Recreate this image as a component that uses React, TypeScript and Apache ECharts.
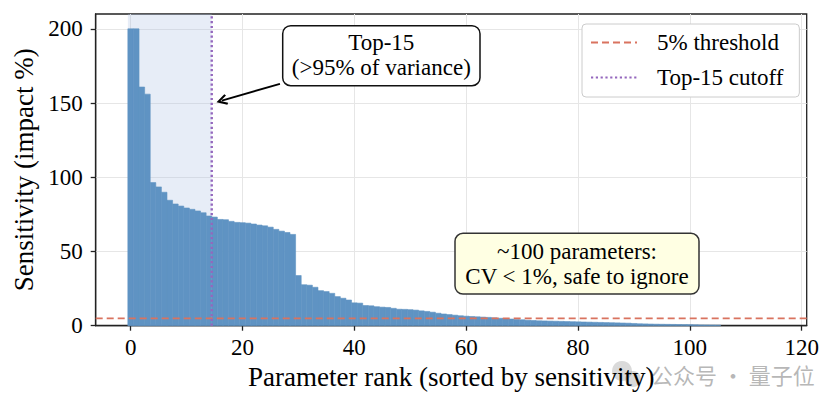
import React, { useEffect, useRef } from "react";
import * as echarts from "echarts";

// Sensitivity (impact %) per parameter, sorted by rank 0..105
const SENSITIVITY = [
  200, 200, 160.8, 156, 96.4, 93.5, 89.9, 84.5, 82, 80.6,
  79.3, 78.4, 77.3, 76.1, 73.9, 73.2, 71.6, 71.4, 70.3, 69.6,
  69.4, 69.1, 68.5, 67.8, 67.3, 66.4, 64.9, 63.7, 62.8, 61.5,
  33.8, 27.6, 27.3, 25.9, 23.6, 23.0, 21.8, 19.6, 18.5, 17.3,
  15.4, 15.2, 13.6, 13.4, 12.8, 12.5, 12.3, 11.7, 11.1, 11.0,
  10.8, 10.5, 10.0, 9.6, 9.1, 8.4, 7.9, 7.5, 7.1, 6.7,
  6.4, 6.2, 6.0, 5.8, 5.6, 5.3, 5.0, 4.8, 4.5, 4.2,
  4.0, 3.7, 3.5, 3.3, 3.2, 3.1, 3.0, 2.9, 2.8, 2.7,
  2.6, 2.5, 2.4, 2.3, 2.2, 2.1, 2.0, 1.9, 1.8, 1.7,
  1.5, 1.3, 1.2, 1.1, 1.0, 0.95, 0.9, 0.85, 0.8, 0.75,
  0.7, 0.6, 0.5, 0.45, 0.4, 0.35,
];
const X_TICKS = [0, 20, 40, 60, 80, 100, 120];
const Y_TICKS = [0, 50, 100, 150, 200];
const THRESHOLD = 5;
const CUTOFF = 14.5;
const SHADE_RANGE = [-0.5, 14.5];
const X_RANGE = [-6.25, 120.9];
const Y_RANGE = [0, 210];
const ARROW_FROM = [26.7, 163];
const ARROW_TO = [16.3, 151.6];

const SERIF = "Liberation Serif, Times New Roman, DejaVu Serif, serif";
const BAR_COLOR = "#5f93c3";
const RED = "#d9735f";
const PURPLE = "#9467bd";
const OPEN_ARROW = "path://M5,0 L10,9 L8.5,10.2 L5,3.8 L1.5,10.2 L0,9 Z";

export default function App() {
  const ref = useRef<HTMLDivElement>(null);
  useEffect(() => {
    document.body.style.margin = "0";
    if (!ref.current) return;
    const chart = echarts.init(ref.current, null, { renderer: "svg" });
    const barData = SENSITIVITY.map((v, i) => [i, v]);
    const option: any = {
      animation: false,
      backgroundColor: "#fff",
      textStyle: { fontFamily: SERIF },
      grid: {
        left: 95.7,
        top: 14,
        right: 25.3,
        bottom: 82.3,
        show: true,
        borderColor: "#222",
        borderWidth: 1.3,
        backgroundColor: "transparent",
      },
      xAxis: {
        type: "value",
        min: X_RANGE[0],
        max: X_RANGE[1],
        name: "Parameter rank (sorted by sensitivity)",
        nameLocation: "middle",
        nameGap: 37,
        nameTextStyle: { fontSize: 27, color: "#000", fontFamily: SERIF },
        axisLine: { show: true, onZero: false, lineStyle: { color: "#222", width: 1.3 } },
        axisTick: { show: true, length: 5, customValues: X_TICKS, lineStyle: { color: "#222", width: 1.3 } },
        axisLabel: { customValues: X_TICKS, fontSize: 23, color: "#000", margin: 10, fontFamily: SERIF },
        splitLine: { show: true, lineStyle: { color: "#e6e6e6", width: 1 } },
      },
      yAxis: {
        type: "value",
        min: Y_RANGE[0],
        max: Y_RANGE[1],
        name: "Sensitivity (impact %)",
        nameLocation: "middle",
        nameGap: 58,
        nameTextStyle: { fontSize: 27, color: "#000", fontFamily: SERIF },
        axisLine: { show: true, onZero: false, lineStyle: { color: "#222", width: 1.3 } },
        axisTick: { show: true, length: 5, customValues: Y_TICKS, lineStyle: { color: "#222", width: 1.3 } },
        axisLabel: { customValues: Y_TICKS, fontSize: 23, color: "#000", margin: 13, fontFamily: SERIF },
        splitLine: { show: true, lineStyle: { color: "#e6e6e6", width: 1 } },
      },
      legend: {
        data: ["5% threshold", "Top-15 cutoff"],
        orient: "vertical",
        left: 582,
        top: 24,
        padding: [7, 16, 8, 8],
        itemGap: 12,
        itemWidth: 46,
        itemHeight: 14,
        backgroundColor: "#fff",
        borderColor: "#cccccc",
        borderWidth: 1,
        borderRadius: 4,
        itemStyle: { opacity: 0 },
        textStyle: { fontSize: 23, color: "#000", fontFamily: SERIF, padding: [0, 0, 0, 15] },
      },
      series: [
        {
          type: "custom",
          name: "Sensitivity",
          data: barData,
          encode: { x: 0, y: 1 },
          z: 2,
          renderItem: (params: any, api: any) => {
            const x = api.value(0);
            const v = api.value(1);
            const p0 = api.coord([x - 0.5, v]);
            const p1 = api.coord([x + 0.5, 0]);
            return {
              type: "rect",
              shape: { x: p0[0], y: p0[1], width: p1[0] - p0[0], height: p1[1] - p0[1] },
              style: { fill: BAR_COLOR, stroke: BAR_COLOR, lineWidth: 0.6 },
            };
          },
          markArea: {
            silent: true,
            itemStyle: { color: "rgba(176,196,230,0.3)" },
            data: [[{ xAxis: SHADE_RANGE[0] }, { xAxis: SHADE_RANGE[1] }]],
          },
        },
        {
          type: "line",
          name: "5% threshold",
          data: [
            [X_RANGE[0], THRESHOLD],
            [X_RANGE[1], THRESHOLD],
          ],
          symbol: "none",
          z: 4,
          lineStyle: { color: RED, width: 1.8, type: [7, 4] },
          itemStyle: { color: RED },
        },
        {
          type: "line",
          name: "Top-15 cutoff",
          data: [
            [CUTOFF, Y_RANGE[0]],
            [CUTOFF, Y_RANGE[1]],
          ],
          symbol: "none",
          z: 4,
          lineStyle: { color: PURPLE, width: 2.4, type: [2.2, 2.6] },
          itemStyle: { color: PURPLE },
          markLine: {
            silent: true,
            symbol: ["none", OPEN_ARROW],
            symbolSize: [11, 11],
            label: { show: false },
            itemStyle: { color: "#000" },
            lineStyle: { color: "#000", width: 1.8, type: "solid" },
            data: [[{ coord: ARROW_FROM }, { coord: ARROW_TO }]],
          },
        },
      ],
      graphic: [
        {
          type: "rect",
          z: 100,
          shape: { x: 282.7, y: 25.7, width: 197.3, height: 60, r: 8 },
          style: { fill: "#fff", stroke: "#111", lineWidth: 1.5 },
        },
        {
          type: "text",
          z: 101,
          x: 381.3,
          y: 54.5,
          style: {
            text: "Top-15\n(>95% of variance)",
            fontSize: 23,
            fontFamily: SERIF,
            fill: "#000",
            align: "center",
            verticalAlign: "middle",
            lineHeight: 25,
          },
        },
        {
          type: "rect",
          z: 100,
          shape: { x: 455, y: 233.3, width: 244, height: 60.7, r: 8 },
          style: { fill: "#ffffe3", stroke: "#333", lineWidth: 1.5 },
        },
        {
          type: "text",
          z: 101,
          x: 577,
          y: 264,
          style: {
            text: "~100 parameters:\nCV < 1%, safe to ignore",
            fontSize: 23,
            fontFamily: SERIF,
            fill: "#000",
            align: "center",
            verticalAlign: "middle",
            lineHeight: 25,
          },
        },
        {
          type: "group",
          z: 200,
          children: [
            { type: "circle", shape: { cx: 622, cy: 371, r: 10 }, style: { fill: "rgba(150,150,150,0.35)" } },
            { type: "circle", shape: { cx: 633, cy: 379, r: 8 }, style: { fill: "rgba(150,150,150,0.35)" } },
            {
              type: "text",
              x: 651,
              y: 374,
              style: {
                text: "公众号 · 量子位",
                fontSize: 22,
                fontFamily: "Noto Sans CJK SC, sans-serif",
                fill: "rgba(160,160,160,0.75)",
                verticalAlign: "middle",
              },
            },
          ],
        },
      ],
    };
    chart.setOption(option);
    return () => chart.dispose();
  }, []);
  return <div ref={ref} style={{ width: 832, height: 408 }} />;
}
